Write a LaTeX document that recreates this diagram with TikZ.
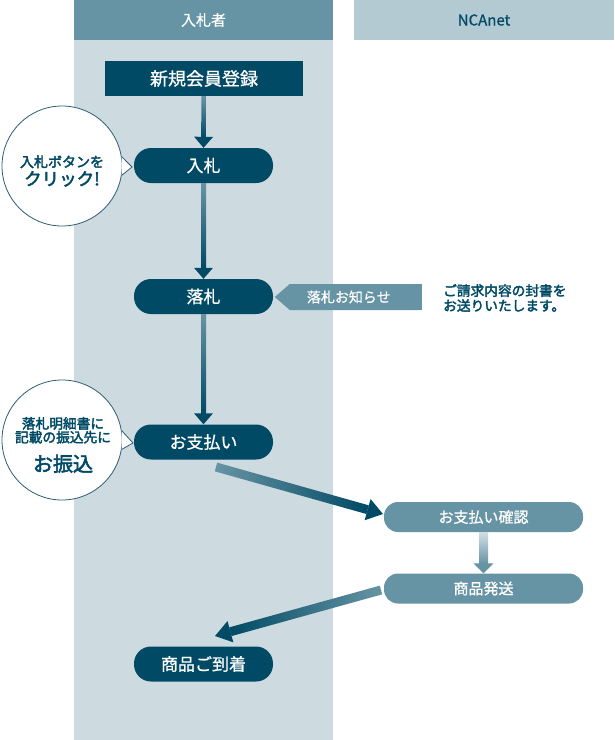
\documentclass[tikz,border=0pt]{standalone}
\usepackage{fontspec}
\setmainfont{Noto Sans CJK JP}
\newfontfamily\medfont{Noto Sans CJK JP}[FakeBold=0.8]
\newfontfamily\heavyfont{Noto Sans CJK JP}[FakeBold=2.6]
\usepackage{tikz}
\usetikzlibrary{positioning, calc, shapes.symbols}
\definecolor{NcaDark}{RGB}{0, 74, 101}
\definecolor{NcaMid}{RGB}{103, 148, 164}
\definecolor{NcaPale}{RGB}{179, 202, 210}
\definecolor{NcaLane}{RGB}{205, 219, 225}
\definecolor{NcaLine}{RGB}{46, 94, 114}

% shaded arrow: shading, from, to, head colour, half shaft, half head, head length
\newcommand{\flowarrow}[7]{%
  \coordinate (fa-base) at ($(#3)!#7!(#2)$);
  \shade[#1] ($(#2)!#5!90:(#3)$) -- ($(fa-base)!#5!90:(#3)$)
    -- ($(fa-base)!#5!-90:(#3)$) -- ($(#2)!#5!-90:(#3)$) -- cycle;
  \fill[#4] ($(fa-base)!#6!90:(#3)$) -- (#3) -- ($(fa-base)!#6!-90:(#3)$) -- cycle;
}

\begin{document}
\begin{tikzpicture}[
        x=1pt, y=-1pt,
        lane/.style={
          minimum width=259pt,
          minimum height=40pt,
          inner sep=0pt,
          font=\medfont\fontsize{15}{17}\selectfont
        },
        pill/.style={
          rectangle,
          rounded corners=17pt,
          fill=NcaDark,
          text=white,
          minimum width=139pt,
          minimum height=35pt,
          inner sep=0pt,
          font=\medfont\fontsize{17}{19}\selectfont
        },
        netpill/.style={
          rectangle,
          rounded corners=14pt,
          fill=NcaMid,
          text=white,
          minimum width=199pt,
          minimum height=30pt,
          inner sep=0pt,
          font=\medfont\fontsize{15}{17}\selectfont
        },
        bubble/.style={
          circle,
          draw=NcaLine,
          line width=0.8pt,
          fill=white,
          minimum size=120pt,
          inner sep=0pt
        },
        bubbletext/.style={
          align=center,
          text=NcaDark,
          inner sep=0pt
        },
        tipline/.style={draw=NcaLine, line width=0.8pt}
      ]
        \useasboundingbox (0,0) rectangle (614,740);

        % lanes
        \fill[NcaLane] (74,0) rectangle (333,740);
        \node (bidderhead) at (203.5,20) [lane, fill=NcaMid, text=white] {入札者};
        \node (ncahead)    at (484,20)   [lane, minimum width=260pt, fill=NcaPale, text=NcaDark] {NCAnet};

        % bidder steps
        \node (register) at (204,78.5)  [rectangle, fill=NcaDark, text=white, minimum width=198pt,
                                         minimum height=35pt, inner sep=0pt, font=\medfont\fontsize{18}{20}\selectfont] {新規会員登録};
        \node (bid)      at (203.5,165.5) [pill] {入札};
        \node (won)      at (203.5,296.5) [pill] {落札};
        \node (pay)      at (203.5,442)   [pill] {お支払い};
        \node (arrived)  at (203.5,664)   [pill] {商品ご到着};

        % NCAnet steps
        \node (confirm) at (483.5,517)   [netpill] {お支払い確認};
        \node (ship)    at (483.5,588.5) [netpill] {商品発送};

        \node (notice) at (422,297) [signal, signal to=west, signal pointer angle=82, anchor=east,
                                     fill=NcaMid, text=white, minimum width=147pt, minimum height=26pt,
                                     inner sep=0pt, font=\medfont\fontsize{14}{16}\selectfont] {\kern-14pt 落札お知らせ};
        \node (mailnote) at (443,298) [anchor=west, align=left, inner sep=0pt, text=NcaDark,
                                       font=\heavyfont\fontsize{13.7}{15}\selectfont] {ご請求内容の封書を\\お送りいたします。};

        % speech bubbles
        \node (clickbubble) at (62,166) [bubble] {};
        \coordinate (clicktip) at (132,167);
        \fill[white] (clickbubble.9) -- (clicktip) -- (clickbubble.-9) -- cycle;
        \draw[tipline] (clickbubble.9) -- (clicktip) -- (clickbubble.-9);
        \node (clicktext) at (62,171) [bubbletext] {%
          {\heavyfont\fontsize{14}{16}\selectfont 入札ボタンを}\\[2pt]
          {\heavyfont\fontsize{17.5}{20}\selectfont クリック!}};

        \node (paybubble) at (62,440) [bubble] {};
        \coordinate (paytip) at (133,443);
        \fill[white] (paybubble.9) -- (paytip) -- (paybubble.-9) -- cycle;
        \draw[tipline] (paybubble.9) -- (paytip) -- (paybubble.-9);
        \node (paytext) at (63,445) [bubbletext] {%
          {\heavyfont\fontsize{13.7}{15}\selectfont 落札明細書に}\\
          {\heavyfont\fontsize{13.7}{15}\selectfont 記載の振込先に}\\[10pt]
          {\heavyfont\fontsize{20}{22}\selectfont お振込}};

        % arrows
        \flowarrow{top color=NcaMid, bottom color=NcaDark}{register.south}{bid.north}{NcaDark}{2.5pt}{9.5pt}{11pt}
        \flowarrow{top color=NcaMid, bottom color=NcaDark}{bid.south}{won.north}{NcaDark}{2.5pt}{9.5pt}{11pt}
        \flowarrow{top color=NcaMid, bottom color=NcaDark}{won.south}{pay.north}{NcaDark}{2.5pt}{9.5pt}{11pt}

        \coordinate (payout)    at (216,467);
        \coordinate (confirmin) at (383,514);
        \flowarrow{left color=NcaMid, right color=NcaDark}{payout}{confirmin}{NcaDark}{4.5pt}{11pt}{16pt}

        \flowarrow{top color=NcaPale!60, bottom color=NcaMid}{confirm.south}{ship.north}{NcaMid}{4.5pt}{10pt}{10pt}

        \coordinate (shipout)  at (381,590);
        \coordinate (arrivein) at (215,636);
        \flowarrow{left color=NcaDark, right color=NcaMid}{shipout}{arrivein}{NcaDark}{4.5pt}{11pt}{16pt}
      \end{tikzpicture}
\end{document}
